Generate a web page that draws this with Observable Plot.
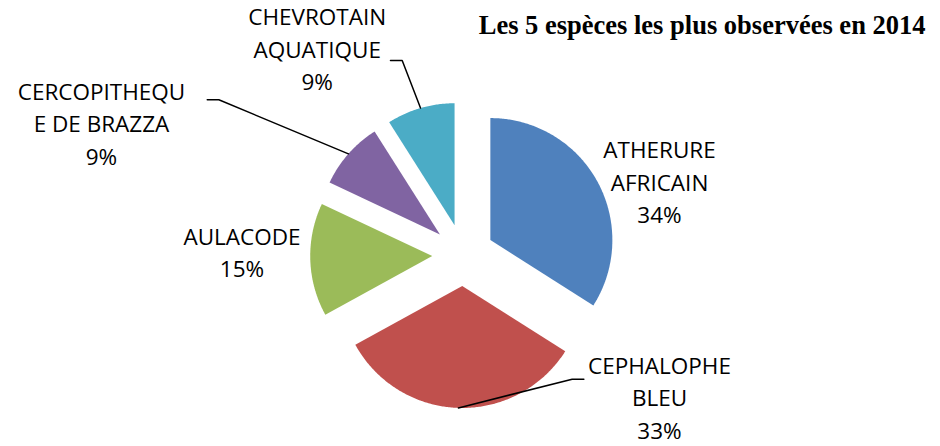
<!DOCTYPE html>
<html><head><meta charset="utf-8">
<script src="https://cdn.jsdelivr.net/npm/d3@7"></script>
<script src="https://cdn.jsdelivr.net/npm/@observablehq/plot@0.6"></script>
<style>body{margin:0;background:#fff} svg{display:block}</style>
</head><body><div id="chart"></div>
<script>
// ---- data ----
const title = "Les 5 espèces les plus observées en 2014";
const species = ["ATHERURE AFRICAIN", "CEPHALOPHE BLEU", "AULACODE", "CERCOPITHEQUE DE BRAZZA", "CHEVROTAIN AQUATIQUE"];
const labelLines = ["ATHERURE\nAFRICAIN", "CEPHALOPHE\nBLEU", "AULACODE", "CERCOPITHEQU\nE DE BRAZZA", "CHEVROTAIN\nAQUATIQUE"];
const shares = [34, 33, 15, 9, 9];

// ---- style / layout (pie radius = 1 unit) ----
const colors = ["#4F81BD", "#C0504D", "#9BBB59", "#8064A2", "#4BACC6"];
const explode = 0.254;
const labelX = [1.609, 1.609, -1.813, -2.965, -1.197];
const labelY = [0.612, -1.155, 0.034, 1.092, 1.701];
// leader start and elbow (null = no leader)
const leaderStart = [null, [0.989, -1.018], null, [-2.098, 1.272], [-0.596, 1.594]];
const leaderElbow = [null, [0.893, -1.018], null, [-2.003, 1.272], [-0.5, 1.594]];

const W = 940, H = 446, R = 122, CX = 462.7, CY = 254.5;

const arcs = d3.pie().sort(null).value(d => d)(shares);
const slicePts = [];
const leaderPts = [];
arcs.forEach((a, i) => {
  const mid = (a.startAngle + a.endAngle) / 2;
  const ox = explode * Math.sin(mid), oy = explode * Math.cos(mid);
  slicePts.push({name: species[i], x: ox, y: oy});
  const n = Math.max(8, Math.ceil((a.endAngle - a.startAngle) / 0.01));
  for (let k = 0; k <= n; k++) {
    const t = a.startAngle + (a.endAngle - a.startAngle) * k / n;
    slicePts.push({name: species[i], x: ox + Math.sin(t), y: oy + Math.cos(t)});
  }
  slicePts.push({name: species[i], x: ox, y: oy});
  if (leaderStart[i]) {
    leaderPts.push({name: species[i], x: leaderStart[i][0], y: leaderStart[i][1]});
    leaderPts.push({name: species[i], x: leaderElbow[i][0], y: leaderElbow[i][1]});
    leaderPts.push({name: species[i], x: (1 + explode) * Math.sin(mid), y: (1 + explode) * Math.cos(mid)});
  }
});
const labelData = species.map((s, i) => ({name: s, x: labelX[i], y: labelY[i], text: labelLines[i] + "\n" + shares[i] + "%"}));

const chart = Plot.plot({
  width: W, height: H,
  marginTop: 0, marginRight: 0, marginBottom: 0, marginLeft: 0,
  x: {domain: [-CX / R, (W - CX) / R], axis: null},
  y: {domain: [-(H - CY) / R, CY / R], axis: null},
  color: {domain: species, range: colors},
  style: {background: "#fff"},
  marks: [
    Plot.line(slicePts, {x: "x", y: "y", z: "name", fill: "name", stroke: "none", curve: "linear"}),
    Plot.line(leaderPts, {x: "x", y: "y", z: "name", stroke: "#000", strokeWidth: 1.5, curve: "linear"}),
    Plot.text(labelData, {x: "x", y: "y", text: "text", textAnchor: "middle", fontFamily: "Open Sans", fontSize: 22.5, lineHeight: 32.5 / 22.5, fill: "#000"}),
    Plot.text([title], {frameAnchor: "top-right", text: d => d, textAnchor: "end", lineAnchor: "top", dx: -15, dy: 14.5, fontFamily: "Liberation Serif", fontWeight: "bold", fontSize: 26.5, fill: "#000"})
  ]
});
document.getElementById("chart").append(chart);
</script>
</body></html>
